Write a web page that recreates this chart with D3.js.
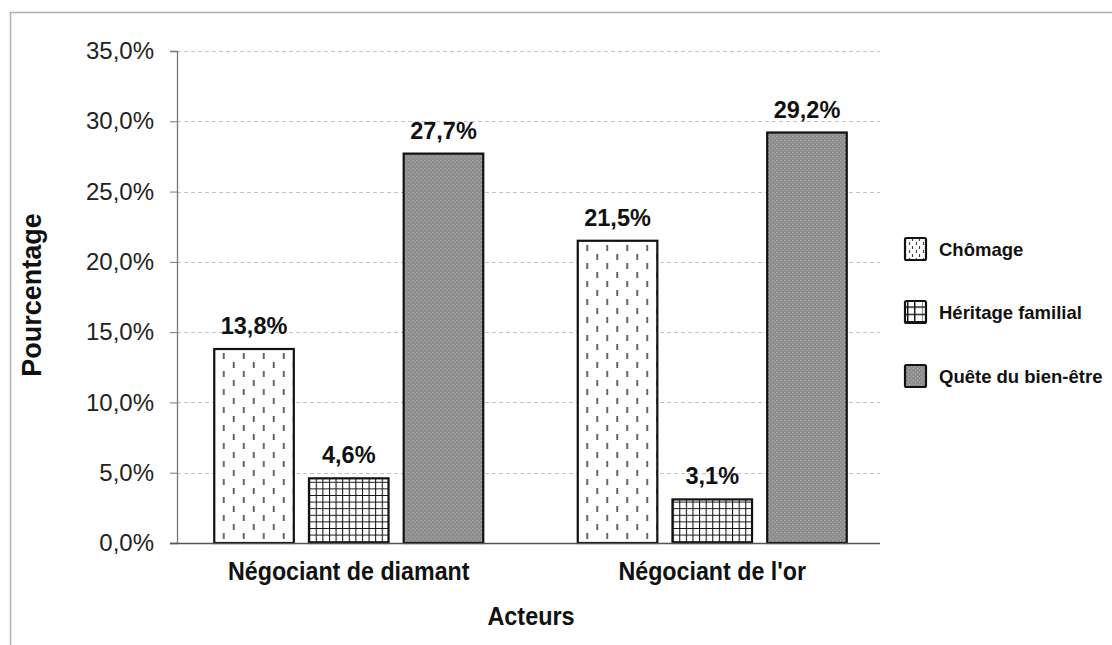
<!DOCTYPE html>
<html><head><meta charset="utf-8">
<script src="https://cdn.jsdelivr.net/npm/d3@7"></script>
<style>html,body{margin:0;padding:0;background:#fff;}</style>
</head><body>
<script>
const categories = ["Négociant de diamant", "Négociant de l'or"];
const seriesNames = ["Chômage", "Héritage familial", "Quête du bien-être"];
const chomage = [13.8, 21.5];
const heritage = [4.6, 3.1];
const quete = [27.7, 29.2];
const yTicks = [0, 5, 10, 15, 20, 25, 30, 35];
const valueLabels = [["13,8%", "21,5%"], ["4,6%", "3,1%"], ["27,7%", "29,2%"]];

const W = 1112, H = 645;
const FONT = "Liberation Sans, Arial, sans-serif";
const svg = d3.select("body").append("svg").attr("width", W).attr("height", H);
const defs = svg.append("defs");

function condense(sel, k) {
  sel.each(function () {
    const len = this.getComputedTextLength();
    d3.select(this).attr("textLength", len * k).attr("lengthAdjust", "spacingAndGlyphs");
  });
}

// Patterns (bars)
const p1 = defs.append("pattern").attr("id", "pChom").attr("patternUnits", "userSpaceOnUse")
  .attr("width", 20).attr("height", 18);
p1.append("rect").attr("width", 20).attr("height", 18).attr("fill", "#fff");
p1.append("line").attr("x1", 5).attr("x2", 5).attr("y1", 2).attr("y2", 8).attr("stroke", "#333").attr("stroke-width", 1.5);
p1.append("line").attr("x1", 15).attr("x2", 15).attr("y1", 11).attr("y2", 17).attr("stroke", "#333").attr("stroke-width", 1.5);

const p2 = defs.append("pattern").attr("id", "pHer").attr("patternUnits", "userSpaceOnUse")
  .attr("width", 6.6).attr("height", 6.6);
p2.append("rect").attr("width", 6.6).attr("height", 6.6).attr("fill", "#fff");
p2.append("path").attr("d", "M0,0.5H6.6M0.5,0V6.6").attr("stroke", "#111").attr("stroke-width", 1.1);

const p3 = defs.append("pattern").attr("id", "pQue").attr("patternUnits", "userSpaceOnUse")
  .attr("width", 4).attr("height", 4);
p3.append("rect").attr("width", 4).attr("height", 4).attr("fill", "#8e8e8e");
p3.append("rect").attr("x", 0).attr("y", 0).attr("width", 1).attr("height", 1).attr("fill", "#b0b0b0");
p3.append("rect").attr("x", 2).attr("y", 2).attr("width", 1).attr("height", 1).attr("fill", "#a8a8a8");

// Patterns (legend, smaller scale)
const l1 = defs.append("pattern").attr("id", "lChom").attr("patternUnits", "userSpaceOnUse")
  .attr("width", 7).attr("height", 8).attr("x", 905).attr("y", 0);
l1.append("rect").attr("width", 7).attr("height", 8).attr("fill", "#fff");
l1.append("line").attr("x1", 2.5).attr("x2", 2.5).attr("y1", 1).attr("y2", 4).attr("stroke", "#444").attr("stroke-width", 1.2);
l1.append("line").attr("x1", 5.5).attr("x2", 5.5).attr("y1", 5).attr("y2", 8).attr("stroke", "#444").attr("stroke-width", 1.2);

const l2 = defs.append("pattern").attr("id", "lHer").attr("patternUnits", "userSpaceOnUse")
  .attr("width", 7).attr("height", 7.3).attr("x", 905).attr("y", 301);
l2.append("rect").attr("width", 7).attr("height", 7.3).attr("fill", "#fff");
l2.append("path").attr("d", "M0,0.7H7M0.7,0V7.3").attr("stroke", "#111").attr("stroke-width", 1.5);

const fills = ["url(#pChom)", "url(#pHer)", "url(#pQue)"];
const legFills = ["url(#lChom)", "url(#lHer)", "url(#pQue)"];
const series = [chomage, heritage, quete];

// frame
svg.append("rect").attr("x", 10.5).attr("y", 12.5).attr("width", 1110).attr("height", 640)
  .attr("fill", "none").attr("stroke", "#b0b0b0").attr("stroke-width", 1.5);

const y = d3.scaleLinear().domain([0, 35]).range([543, 51]);
const x0 = d3.scaleBand().domain(categories).range([167, 894]).paddingInner(0).paddingOuter(0);
const x1 = d3.scaleBand().domain(seriesNames).range([-134.5, 134.5]).paddingInner(0.16).paddingOuter(0);

const axisX = 177, plotRight = 880;

// gridlines
svg.append("g").selectAll("line").data(yTicks.filter(d => d > 0)).join("line")
  .attr("x1", axisX).attr("x2", plotRight)
  .attr("y1", d => Math.round(y(d)) + 0.5).attr("y2", d => Math.round(y(d)) + 0.5)
  .attr("stroke", "#c4c4c4").attr("stroke-width", 1).attr("stroke-dasharray", "4,3");

// y axis
const yAxis = d3.axisLeft(y).tickValues(yTicks).tickSize(7).tickPadding(16)
  .tickFormat(d => d3.format(".1f")(d).replace(".", ",") + "%");
const gy = svg.append("g").attr("transform", `translate(${axisX},0)`).call(yAxis);
gy.select(".domain").attr("stroke", "#777").attr("stroke-width", 1.3);
gy.selectAll(".tick line").attr("stroke", "#777");
gy.selectAll("text").attr("font-family", FONT).attr("font-size", 24).attr("fill", "#222");

// bars
const groups = svg.append("g").selectAll("g").data(categories).join("g")
  .attr("transform", c => `translate(${x0(c) + x0.bandwidth() / 2},0)`);
groups.each(function (c, ci) {
  const g = d3.select(this);
  seriesNames.forEach((s, si) => {
    const v = series[si][ci];
    g.append("rect").attr("x", x1(s)).attr("y", y(v)).attr("width", x1.bandwidth()).attr("height", y(0) - y(v))
      .attr("fill", fills[si]).attr("stroke", "#111").attr("stroke-width", 2.2);
    g.append("text").attr("x", x1(s) + x1.bandwidth() / 2).attr("y", y(v) - 15)
      .attr("text-anchor", "middle").attr("font-family", FONT)
      .attr("font-weight", "bold").attr("font-size", 23.5).attr("fill", "#111").text(valueLabels[si][ci]);
  });
});

// x axis line
svg.append("line").attr("x1", 170).attr("x2", plotRight).attr("y1", 543.5).attr("y2", 543.5)
  .attr("stroke", "#555").attr("stroke-width", 1.5);

// category labels
const cat = svg.append("g").selectAll("text").data(categories).join("text")
  .attr("x", c => x0(c) + x0.bandwidth() / 2).attr("y", 580)
  .attr("text-anchor", "middle").attr("font-family", FONT)
  .attr("font-weight", "bold").attr("font-size", 25).attr("fill", "#111").text(c => c);
condense(cat, 0.93);

// axis titles
const tx = svg.append("text").attr("x", 531).attr("y", 625).attr("text-anchor", "middle")
  .attr("font-family", FONT).attr("font-weight", "bold")
  .attr("font-size", 26).attr("fill", "#111").text("Acteurs");
condense(tx, 0.9);
svg.append("text").attr("transform", "translate(41,295) rotate(-90)").attr("text-anchor", "middle")
  .attr("font-family", FONT).attr("font-weight", "bold")
  .attr("font-size", 27).attr("fill", "#111").text("Pourcentage");

// legend
const legY = [249, 312, 376];
const leg = svg.append("g").selectAll("g").data(seriesNames).join("g")
  .attr("transform", (d, i) => `translate(905,${legY[i]})`);
leg.append("rect").attr("x", 0).attr("y", -11).attr("width", 21).attr("height", 22).attr("rx", 1.5)
  .attr("fill", (d, i) => legFills[i]).attr("stroke", "#111").attr("stroke-width", 2.2);
leg.append("text").attr("x", 34).attr("y", 0).attr("dy", "0.36em")
  .attr("font-family", FONT).attr("font-weight", "bold")
  .attr("font-size", 18.5).attr("fill", "#111").text(d => d);
</script>
</body></html>
